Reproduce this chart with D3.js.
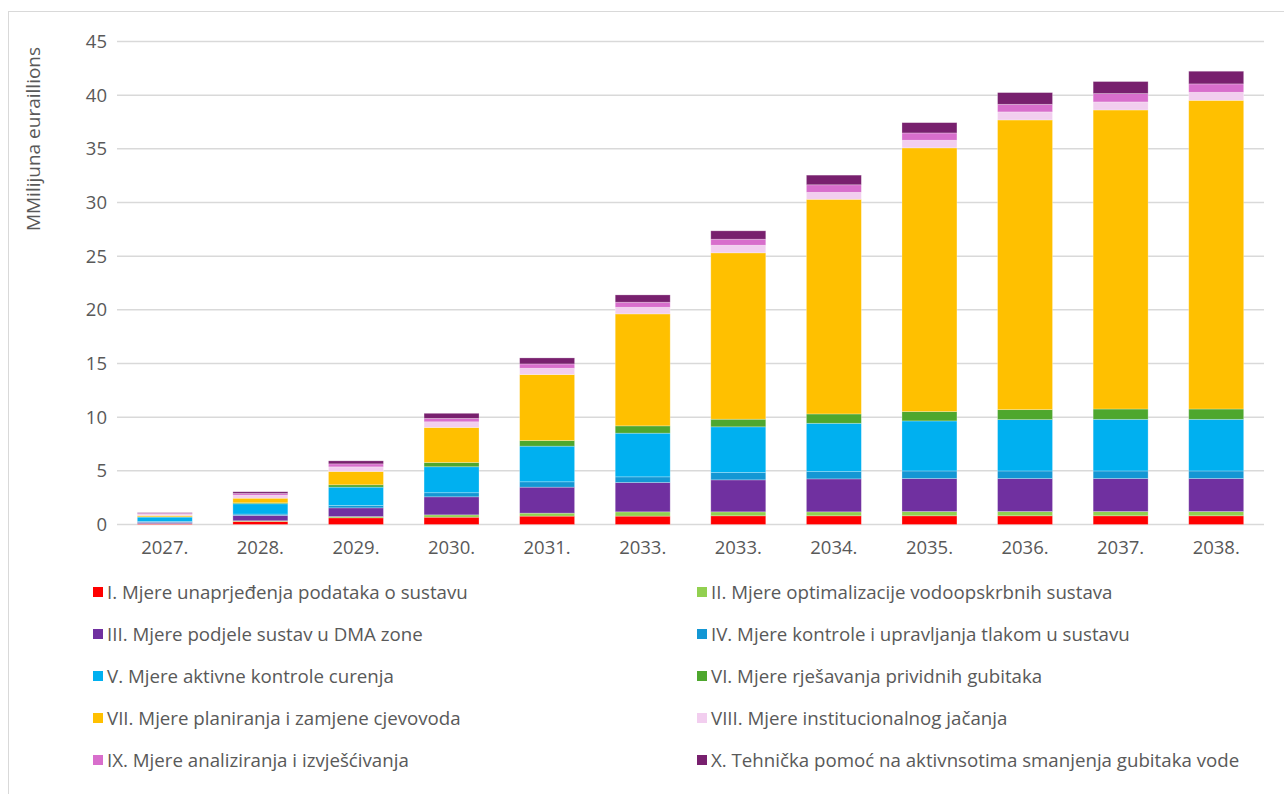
<!DOCTYPE html>
<html>
<head>
<meta charset="utf-8">
<script src="https://cdn.jsdelivr.net/npm/d3@7/dist/d3.min.js"></script>
<style>
  html, body { margin: 0; padding: 0; background: #fff; }
  svg { display: block; }
  text { font-family: "Open Sans", "Noto Sans", sans-serif; fill: #595959; }
</style>
</head>
<body>
<svg id="chart" width="1284" height="794"></svg>
<script>
const categories = ["2027.", "2028.", "2029.", "2030.", "2031.", "2033.", "2033.", "2034.", "2035.", "2036.", "2037.", "2038."];
const seriesNames = [
  "I. Mjere unaprjeđenja podataka o sustavu",
  "II. Mjere optimalizacije vodoopskrbnih sustava",
  "III. Mjere podjele sustav u DMA zone",
  "IV. Mjere kontrole i upravljanja tlakom u sustavu",
  "V. Mjere aktivne kontrole curenja",
  "VI. Mjere rješavanja prividnih gubitaka",
  "VII. Mjere planiranja i zamjene cjevovoda",
  "VIII. Mjere institucionalnog jačanja",
  "IX. Mjere analiziranja i izvješćivanja",
  "X. Tehnička pomoć na aktivnsotima smanjenja gubitaka vode"
];
const s1  = [0.06, 0.28, 0.62, 0.68, 0.78, 0.78, 0.81, 0.81, 0.81, 0.81, 0.81, 0.81];
const s2  = [0.02, 0.07, 0.12, 0.22, 0.28, 0.40, 0.37, 0.37, 0.40, 0.40, 0.40, 0.40];
const s3  = [0.12, 0.50, 0.81, 1.68, 2.42, 2.73, 2.98, 3.07, 3.07, 3.07, 3.07, 3.07];
const s4  = [0.09, 0.12, 0.22, 0.38, 0.50, 0.53, 0.68, 0.68, 0.71, 0.71, 0.71, 0.71];
const s5  = [0.40, 0.96, 1.71, 2.42, 3.32, 4.07, 4.26, 4.50, 4.66, 4.78, 4.81, 4.81];
const s6  = [0.03, 0.09, 0.22, 0.40, 0.52, 0.68, 0.71, 0.87, 0.87, 0.93, 0.96, 0.96];
const s7  = [0.12, 0.43, 1.24, 3.26, 6.15, 10.43, 15.50, 20.00, 24.57, 26.99, 27.86, 28.76];
const s8  = [0.12, 0.28, 0.43, 0.53, 0.59, 0.62, 0.71, 0.65, 0.71, 0.75, 0.75, 0.75];
const s9  = [0.09, 0.16, 0.28, 0.32, 0.40, 0.47, 0.56, 0.70, 0.68, 0.71, 0.78, 0.78];
const s10 = [0.05, 0.16, 0.28, 0.47, 0.56, 0.68, 0.78, 0.90, 0.96, 1.09, 1.12, 1.18];
const seriesValues = [s1, s2, s3, s4, s5, s6, s7, s8, s9, s10];
const colors = ["#FF0000", "#92D050", "#7030A0", "#1497D4", "#00B0F0", "#4EA72E", "#FFC000", "#F2CEEF", "#D86ECC", "#78206E"];
const yTicks = [0, 5, 10, 15, 20, 25, 30, 35, 40, 45];
const yTitle = "MMilijuna euraillions";

const svg = d3.select("#chart");

// outer frame
svg.append("rect").attr("x", 8.5).attr("y", 11.5).attr("width", 1300).attr("height", 800)
  .attr("fill", "none").attr("stroke", "#d9d9d9").attr("stroke-width", 1);

const left = 117, right = 1264;
const x = d3.scaleBand().domain(d3.range(categories.length)).range([left, right]).paddingInner(0.425).paddingOuter(0.2125);
const y = d3.scaleLinear().domain([0, 45]).range([524.5, 41.5]);

// gridlines
svg.append("g").selectAll("line").data(yTicks).join("line")
  .attr("x1", left).attr("x2", right)
  .attr("y1", d => y(d)).attr("y2", d => y(d))
  .attr("stroke", "#d9d9d9").attr("stroke-width", 1.5);

// y axis labels
const yAxis = d3.axisLeft(y).tickValues(yTicks).tickSize(0).tickPadding(0);
const yg = svg.append("g").attr("transform", `translate(${left - 10},0)`).call(yAxis);
yg.select(".domain").remove();
yg.selectAll("text").attr("font-size", 18.5).style("fill", "#595959").attr("font-family", "Open Sans");

// x axis labels
const xAxis = d3.axisBottom(x).tickFormat(i => categories[i]).tickSize(0).tickPadding(0);
const xg = svg.append("g").attr("transform", `translate(0,${y(0) + 16})`).call(xAxis);
xg.select(".domain").remove();
xg.selectAll("text").attr("font-size", 18.5).style("fill", "#595959").attr("font-family", "Open Sans");

// stack
const rows = categories.map((c, i) => {
  const r = { idx: i };
  seriesValues.forEach((s, k) => r["k" + k] = s[i]);
  return r;
});
const keys = seriesValues.map((s, k) => "k" + k);
const stacked = d3.stack().keys(keys)(rows);

svg.append("g").selectAll("g").data(stacked).join("g")
  .attr("fill", (d, k) => colors[k])
  .selectAll("rect").data(d => d).join("rect")
  .attr("x", d => x(d.data.idx))
  .attr("width", x.bandwidth())
  .attr("y", d => y(d[1]))
  .attr("height", d => y(d[0]) - y(d[1]))
  .attr("stroke", "#ffffff").attr("stroke-opacity", 0.35).attr("stroke-width", 0.75);

// y title
svg.append("text")
  .attr("transform", `translate(40,${139}) rotate(-90)`)
  .attr("text-anchor", "middle")
  .attr("font-size", 19)
  .text(yTitle);

// legend
const legendCols = [93, 697];
const legendRows = [592, 634, 676, 718, 760];
const lg = svg.append("g");
seriesNames.forEach((name, k) => {
  const cx = legendCols[k % 2];
  const cy = legendRows[Math.floor(k / 2)];
  lg.append("rect").attr("x", cx).attr("y", cy - 5).attr("width", 10).attr("height", 10).attr("fill", colors[k]);
  lg.append("text").attr("x", cx + 14).attr("y", cy).attr("dy", "0.35em")
    .attr("font-size", 18.7).text(name);
});
</script>
</body>
</html>
